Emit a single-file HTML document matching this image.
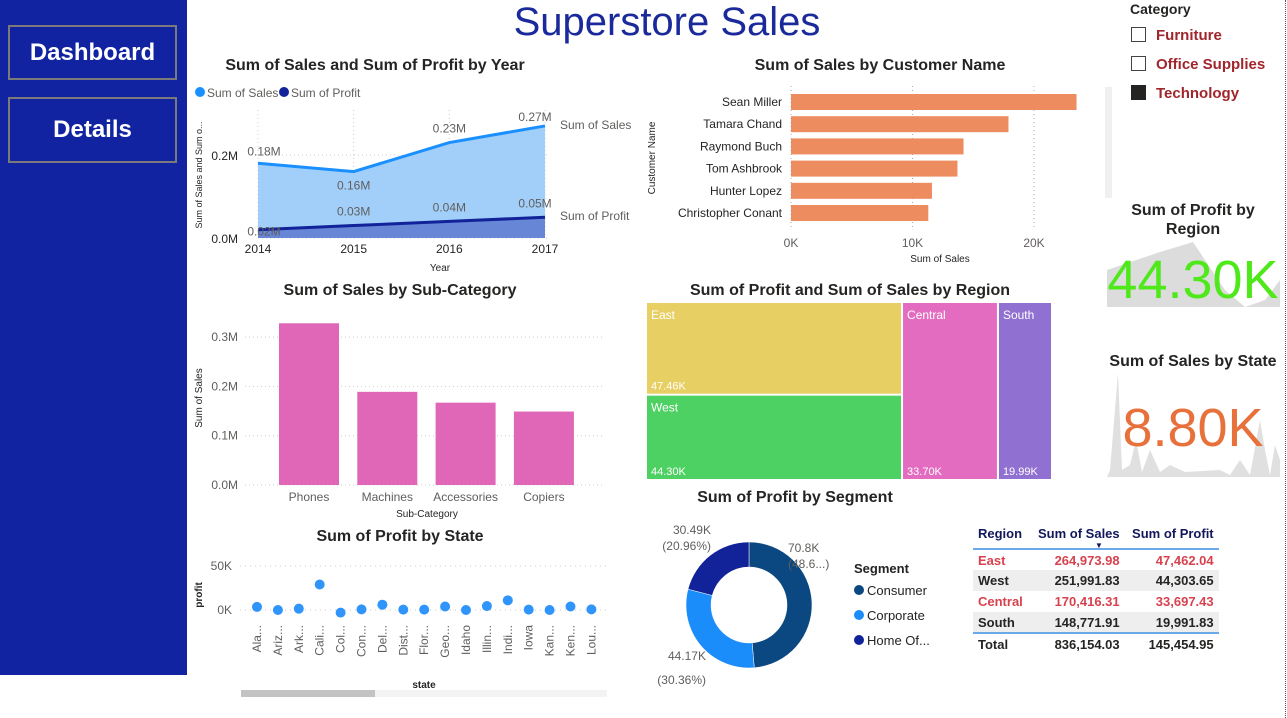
<!DOCTYPE html>
<html><head><meta charset="utf-8">
<style>
body{margin:0;width:1287px;height:718px;background:#fff;font-family:"Liberation Sans",sans-serif;overflow:hidden;position:relative}
.abs{position:absolute}
.btn{position:absolute;left:8px;width:165px;border:2px solid #7a7a7a;color:#fff;font-weight:bold;font-size:24px;text-align:center;background:#1123a0}
svg text{font-family:"Liberation Sans",sans-serif}
table{border-collapse:collapse;font-size:13px;font-weight:bold;white-space:nowrap}
</style></head><body>
<div class="abs" style="left:0;top:0;width:187px;height:675px;background:#1123a0"></div>
<div class="btn" style="top:25px;height:51px;line-height:51px">Dashboard</div>
<div class="btn" style="top:97px;height:62px;line-height:62px">Details</div>
<div class="abs" style="left:450px;top:0;width:434px;text-align:center;font-size:40px;color:#1a2a9a;line-height:44px">Superstore Sales</div>
<div class="abs" style="left:1285px;top:0;height:718px;border-left:1px dotted #555"></div>

<div class="abs" style="left:1130px;top:1px;font-size:14px;font-weight:bold;color:#252423">Category</div>
<div class="abs" style="left:1131px;top:27px;font-size:15px;font-weight:bold;color:#a0262c"><span style="display:inline-block;width:13px;height:13px;border:1px solid #444;vertical-align:-2px;margin-right:10px"></span>Furniture</div>
<div class="abs" style="left:1131px;top:56px;font-size:15px;font-weight:bold;color:#a0262c"><span style="display:inline-block;width:13px;height:13px;border:1px solid #444;vertical-align:-2px;margin-right:10px"></span>Office Supplies</div>
<div class="abs" style="left:1131px;top:85px;font-size:15px;font-weight:bold;color:#a0262c"><span style="display:inline-block;width:15px;height:15px;background:#252423;vertical-align:-2px;margin-right:10px"></span>Technology</div>

<svg class="abs" style="left:1100px;top:190px" width="185" height="300">
<polygon points="7,117 7,80 60,62 93,52 125,100 145,117 165,110 180,90 180,117" fill="#dcdcdc"/>
<polygon points="7,287 10,280 18,183 22,280 30,275 36,250 42,282 50,260 60,282 70,275 85,282 120,280 130,285 140,270 150,285 160,230 165,260 170,285 175,255 180,270 180,287" fill="#e0e0e0"/>
<text x="93" y="25" text-anchor="middle" font-size="16" font-weight="bold" fill="#252423">Sum of Profit by</text>
<text x="93" y="44" text-anchor="middle" font-size="16" font-weight="bold" fill="#252423">Region</text>
<text x="93" y="108" text-anchor="middle" font-size="54" fill="#4fe81a">44.30K</text>
<text x="93" y="176" text-anchor="middle" font-size="16" font-weight="bold" fill="#252423">Sum of Sales by State</text>
<text x="93" y="256" text-anchor="middle" font-size="54" fill="#e8703a">8.80K</text>
</svg>

<svg class="abs" id="line" style="left:190px;top:50px" width="450" height="230"></svg>
<svg class="abs" id="cust" style="left:640px;top:50px" width="475" height="220"></svg>
<svg class="abs" id="sub" style="left:190px;top:275px" width="450" height="250"></svg>
<svg class="abs" id="tree" style="left:640px;top:275px" width="425" height="210"></svg>
<svg class="abs" id="scat" style="left:190px;top:520px" width="440" height="190"></svg>
<svg class="abs" id="donut" style="left:640px;top:480px" width="320" height="220"></svg>

<div class="abs" style="left:973px;top:518px">
<table>
<tr style="color:#12185a;border-bottom:2px solid #6aa8e8;height:31px"><td style="padding:0 5px;width:50px">Region</td><td style="text-align:right;padding:0 5px;width:80px;position:relative">Sum of Sales<span style="position:absolute;left:62px;top:23px;font-size:8px">▼</span></td><td style="text-align:right;padding:0 5px;width:84px">Sum of Profit</td></tr>
<tr style="color:#d7424e;height:21px"><td style="padding:0 5px">East</td><td style="text-align:right;padding:0 5px">264,973.98</td><td style="text-align:right;padding:0 5px">47,462.04</td></tr>
<tr style="color:#252423;background:#eee;height:21px"><td style="padding:0 5px">West</td><td style="text-align:right;padding:0 5px">251,991.83</td><td style="text-align:right;padding:0 5px">44,303.65</td></tr>
<tr style="color:#d7424e;height:21px"><td style="padding:0 5px">Central</td><td style="text-align:right;padding:0 5px">170,416.31</td><td style="text-align:right;padding:0 5px">33,697.43</td></tr>
<tr style="color:#252423;background:#eee;height:21px;border-bottom:2px solid #6aa8e8"><td style="padding:0 5px">South</td><td style="text-align:right;padding:0 5px">148,771.91</td><td style="text-align:right;padding:0 5px">19,991.83</td></tr>
<tr style="color:#252423;height:22px"><td style="padding:0 5px">Total</td><td style="text-align:right;padding:0 5px">836,154.03</td><td style="text-align:right;padding:0 5px">145,454.95</td></tr>
</table></div>

<script>
const years=['2014','2015','2016','2017'];
const salesM=[0.18,0.16,0.23,0.27];
const profitM=[0.02,0.03,0.04,0.05];
const salesLbl=['0.18M','0.16M','0.23M','0.27M'];
const profitLbl=['0.02M','0.03M','0.04M','0.05M'];
const customers=['Sean Miller','Tamara Chand','Raymond Buch','Tom Ashbrook','Hunter Lopez','Christopher Conant'];
const custSales=[23.5,17.9,14.2,13.7,11.6,11.3];
const subCats=['Phones','Machines','Accessories','Copiers'];
const subSales=[0.328,0.189,0.167,0.149];
const regions=['East','West','Central','South'];
const regionProfit=[47.46,44.30,33.70,19.99];
const regionSize=[32.8,30.2,23.6,13.3];
const states=['Ala...','Ariz...','Ark...','Cali...','Col...','Con...','Del...','Dist...','Flor...','Geo...','Idaho','Illin...','Indi...','Iowa','Kan...','Ken...','Lou...'];
const stateProfit=[3.5,0,1.5,29,-3,0.7,6,0.4,0.4,4,0,4.5,11,0.4,0,4,0.7];
const segments=['Consumer','Corporate','Home Of...'];
const segProfit=[70.8,44.17,30.49];
const segLbl1=['70.8K','44.17K','30.49K'];
const segLbl2=['(48.6...)','(30.36%)','(20.96%)'];

const NS='http://www.w3.org/2000/svg';
function mk(p,t,a,txt){const e=document.createElementNS(NS,t);for(const k in a)e.setAttribute(k,a[k]);if(txt!==undefined)e.textContent=txt;p.appendChild(e);return e;}

(function(){
const s=document.getElementById('line');
const x=i=>68+i*(287/3), y=v=>188-v*415;
mk(s,'text',{x:185,y:20,'text-anchor':'middle','font-size':16,'font-weight':'bold',fill:'#252423'},'Sum of Sales and Sum of Profit by Year');
mk(s,'circle',{cx:10,cy:42,r:5,fill:'#1a90ff'});mk(s,'text',{x:17,y:47,'font-size':12,fill:'#605e5c'},'Sum of Sales');
mk(s,'circle',{cx:94,cy:42,r:5,fill:'#12239a'});mk(s,'text',{x:101,y:47,'font-size':12,fill:'#605e5c'},'Sum of Profit');
[0,0.2].forEach(v=>{mk(s,'line',{x1:68,x2:360,y1:y(v),y2:y(v),stroke:'#ccc','stroke-dasharray':'1,3'});mk(s,'text',{x:48,y:y(v)+5,'text-anchor':'end','font-size':12,fill:'#252423'},v.toFixed(1)+'M');});
years.forEach((yr,i)=>{mk(s,'line',{x1:x(i),x2:x(i),y1:60,y2:188,stroke:'#ccc','stroke-dasharray':'1,3'});mk(s,'text',{x:x(i),y:203,'text-anchor':'middle','font-size':12,fill:'#252423'},yr);});
let pa='M'+x(0)+','+y(0);salesM.forEach((v,i)=>pa+=' L'+x(i)+','+y(v));pa+=' L'+x(3)+','+y(0)+'Z';
const a1=mk(s,'path',{d:pa,fill:'#a2cffa'});
let pb='M'+x(0)+','+y(0);profitM.forEach((v,i)=>pb+=' L'+x(i)+','+y(v));pb+=' L'+x(3)+','+y(0)+'Z';
const a2=mk(s,'path',{d:pb,fill:'#6787d6'});
const l1=mk(s,'polyline',{points:salesM.map((v,i)=>x(i)+','+y(v)).join(' '),fill:'none',stroke:'#1a90ff','stroke-width':3});
const l2=mk(s,'polyline',{points:profitM.map((v,i)=>x(i)+','+y(v)).join(' '),fill:'none',stroke:'#12239a','stroke-width':3});
const so=[-8,18,-10,-5], po=[8,-8,-8,-8];
salesM.forEach((v,i)=>mk(s,'text',{x:x(i)+(i==3?-10:i==0?6:0),y:y(v)+so[i],'text-anchor':'middle','font-size':12,fill:'#605e5c'},salesLbl[i]));
profitM.forEach((v,i)=>mk(s,'text',{x:x(i)+(i==3?-10:i==0?6:0),y:y(v)+po[i]-2,'text-anchor':'middle','font-size':12,fill:'#605e5c'},profitLbl[i]));
mk(s,'text',{x:370,y:79,'font-size':12,fill:'#605e5c'},'Sum of Sales');
mk(s,'text',{x:370,y:170,'font-size':12,fill:'#605e5c'},'Sum of Profit');
mk(s,'text',{x:250,y:221,'text-anchor':'middle','font-size':10,fill:'#252423'},'Year');
mk(s,'text',{transform:'translate(12,125) rotate(-90)','text-anchor':'middle','font-size':9,fill:'#252423'},'Sum of Sales and Sum o...');
})();

(function(){
const s=document.getElementById('cust');
const x=v=>151+v*12.15;
mk(s,'text',{x:240,y:20,'text-anchor':'middle','font-size':16,'font-weight':'bold',fill:'#252423'},'Sum of Sales by Customer Name');
[0,10,20].forEach(v=>{mk(s,'line',{x1:x(v),x2:x(v),y1:36,y2:178,stroke:'#aaa','stroke-dasharray':'1,3'});mk(s,'text',{x:x(v),y:197,'text-anchor':'middle','font-size':12,fill:'#605e5c'},v+'K');});
customers.forEach((c,i)=>{const yy=44+i*22.2;
const r=mk(s,'rect',{x:x(0),y:yy,width:x(custSales[i])-x(0),height:16,fill:'#ec8c5f'});
mk(s,'text',{x:142,y:yy+12,'text-anchor':'end','font-size':12,fill:'#252423'},c);});
mk(s,'text',{x:300,y:212,'text-anchor':'middle','font-size':10,fill:'#252423'},'Sum of Sales');
mk(s,'text',{transform:'translate(15,108) rotate(-90)','text-anchor':'middle','font-size':10,fill:'#252423'},'Customer Name');
mk(s,'rect',{x:465,y:37,width:7,height:111,fill:'#f0f0f0'});
})();

(function(){
const s=document.getElementById('sub');
const y=v=>210-v*493;
mk(s,'text',{x:210,y:20,'text-anchor':'middle','font-size':16,'font-weight':'bold',fill:'#252423'},'Sum of Sales by Sub-Category');
[0,0.1,0.2,0.3].forEach(v=>{mk(s,'line',{x1:55,x2:415,y1:y(v),y2:y(v),stroke:'#ccc','stroke-dasharray':'1,3'});mk(s,'text',{x:48,y:y(v)+4,'text-anchor':'end','font-size':12,fill:'#605e5c'},v.toFixed(1)+'M');});
subCats.forEach((c,i)=>{const xx=89+i*78.3;
const r=mk(s,'rect',{x:xx,y:y(subSales[i]),width:60,height:y(0)-y(subSales[i]),fill:'#e066b8'});
mk(s,'text',{x:xx+30,y:226,'text-anchor':'middle','font-size':12,fill:'#605e5c'},c);});
mk(s,'text',{x:237,y:242,'text-anchor':'middle','font-size':10,fill:'#252423'},'Sub-Category');
mk(s,'text',{transform:'translate(12,123) rotate(-90)','text-anchor':'middle','font-size':10,fill:'#252423'},'Sum of Sales');
})();

(function(){
const s=document.getElementById('tree');
mk(s,'text',{x:210,y:20,'text-anchor':'middle','font-size':16,'font-weight':'bold',fill:'#252423'},'Sum of Profit and Sum of Sales by Region');
const L=7,T=28,W=406,H=178,total=regionSize.reduce((a,b)=>a+b,0);
const cols=['#e8cf63','#4cd162','#e46cc0','#9070d0'];
const leftW=W*(regionSize[0]+regionSize[1])/total;
const eH=H*regionSize[0]/(regionSize[0]+regionSize[1]);
const cW=(W-leftW)*regionSize[2]/(regionSize[2]+regionSize[3]);
const rects=[[L,T,leftW,eH],[L,T+eH,leftW,H-eH],[L+leftW,T,cW,H],[L+leftW+cW,T,W-leftW-cW,H]];
rects.forEach((r,i)=>{const e=mk(s,'rect',{x:r[0],y:r[1],width:r[2]-2,height:r[3]-2,fill:cols[i]});
mk(s,'text',{x:r[0]+4,y:r[1]+16,'font-size':12,fill:'#fff'},regions[i]);
mk(s,'text',{x:r[0]+4,y:r[1]+r[3]-6,'font-size':11,fill:'#fff'},regionProfit[i].toFixed(2)+'K');});
})();

(function(){
const s=document.getElementById('scat');
const y=v=>90-v*0.88, x=i=>67+i*20.9;
mk(s,'text',{x:210,y:21,'text-anchor':'middle','font-size':16,'font-weight':'bold',fill:'#252423'},'Sum of Profit by State');
[0,50].forEach(v=>{mk(s,'line',{x1:50,x2:420,y1:y(v),y2:y(v),stroke:'#ccc','stroke-dasharray':'1,4'});mk(s,'text',{x:42,y:y(v)+4,'text-anchor':'end','font-size':12,fill:'#605e5c'},v+'K');});
states.forEach((st,i)=>{const c=mk(s,'circle',{cx:x(i),cy:y(stateProfit[i]),r:5,fill:'#2f95fb'});
mk(s,'text',{transform:'translate('+(x(i)+4)+',105) rotate(-90)','text-anchor':'end','font-size':12,fill:'#605e5c'},st);});
mk(s,'text',{x:234,y:168,'text-anchor':'middle','font-size':10,'font-weight':'bold',fill:'#252423'},'state');
mk(s,'text',{transform:'translate(12,75) rotate(-90)','text-anchor':'middle','font-size':10,'font-weight':'bold',fill:'#252423'},'profit');
mk(s,'rect',{x:51,y:170,width:366,height:7,fill:'#f3f3f3'});
const sb=mk(s,'rect',{x:51,y:170,width:134,height:7,fill:'#c3c3c3'});
})();

(function(){
const s=document.getElementById('donut');
mk(s,'text',{x:155,y:22,'text-anchor':'middle','font-size':16,'font-weight':'bold',fill:'#252423'},'Sum of Profit by Segment');
const cx=109,cy=125,R=63,r=38,total=segProfit.reduce((a,b)=>a+b,0);
const cols=['#0b4881','#1b8dfb','#12239a'];
let a0=-Math.PI/2;
segProfit.forEach((v,i)=>{const a1=a0+v/total*2*Math.PI;const lg=(a1-a0)>Math.PI?1:0;
const P=(rad,a)=>(cx+rad*Math.cos(a))+','+(cy+rad*Math.sin(a));
const d='M'+P(R,a0)+' A'+R+','+R+' 0 '+lg+' 1 '+P(R,a1)+' L'+P(r,a1)+' A'+r+','+r+' 0 '+lg+' 0 '+P(r,a0)+'Z';
const e=mk(s,'path',{d:d,fill:cols[i],stroke:'#fff','stroke-width':0.5});
a0=a1;});
mk(s,'text',{x:148,y:72,'font-size':12,fill:'#605e5c'},segLbl1[0]);mk(s,'text',{x:148,y:88,'font-size':12,fill:'#605e5c'},segLbl2[0]);
mk(s,'text',{x:66,y:180,'text-anchor':'end','font-size':12,fill:'#605e5c'},segLbl1[1]);mk(s,'text',{x:66,y:204,'text-anchor':'end','font-size':12,fill:'#605e5c'},segLbl2[1]);
mk(s,'text',{x:71,y:54,'text-anchor':'end','font-size':12,fill:'#605e5c'},segLbl1[2]);mk(s,'text',{x:71,y:70,'text-anchor':'end','font-size':12,fill:'#605e5c'},segLbl2[2]);
mk(s,'text',{x:214,y:93,'font-size':13,'font-weight':'bold',fill:'#252423'},'Segment');
segments.forEach((sg,i)=>{mk(s,'circle',{cx:219,cy:110+i*25,r:5,fill:cols[i]});mk(s,'text',{x:227,y:115+i*25,'font-size':13,fill:'#252423'},sg);});
})();
</script>
</body></html>
